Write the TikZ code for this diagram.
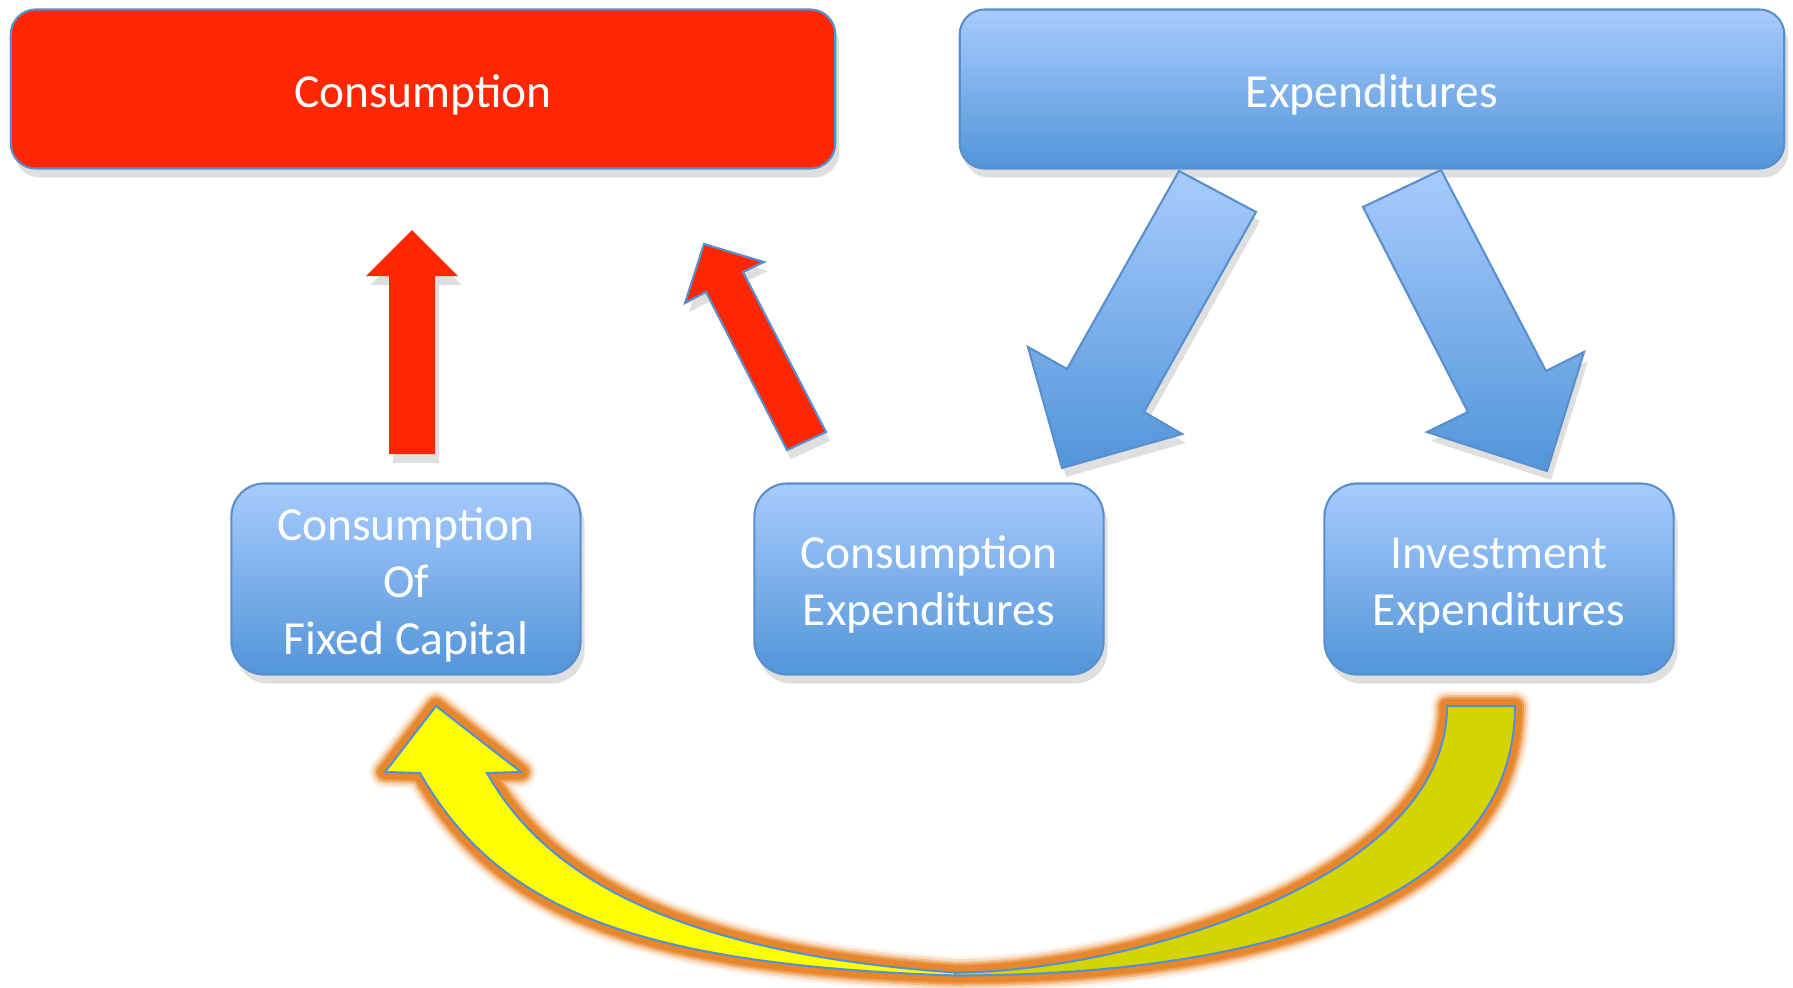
\documentclass[tikz,border=0pt]{standalone}
\usepackage{fontspec}
\setmainfont{Carlito}
\usetikzlibrary{shadows}
\definecolor{boxred}{HTML}{FF2600}
\definecolor{boxtop}{HTML}{A8CBFD}
\definecolor{boxbottom}{HTML}{5295D9}
\definecolor{edgeblue}{HTML}{5A8FCD}
\definecolor{glow}{HTML}{E8862C}
\definecolor{brightyellow}{HTML}{FFFF00}
\definecolor{darkyellow}{HTML}{D4D400}
\newcommand{\toppad}{\rule{0pt}{12.6pt}}

\begin{document}
\begin{tikzpicture}[x=0.01cm, y=-0.01cm,
    boxshadow/.style={drop shadow={opacity=0.25, shadow xshift=0.4mm, shadow yshift=-0.9mm}},
    bigbox/.style={rounded corners=0.25cm, draw=edgeblue, line width=0.6pt, minimum width=8.24cm, minimum height=1.59cm, text=white, font=\fontsize{13.5}{16}\selectfont, text height=10.7pt, text depth=0pt, boxshadow},
    smallbox/.style={rounded corners=0.33cm, draw=edgeblue, line width=0.6pt, minimum width=3.49cm, minimum height=1.91cm, text=white, align=center, font=\fontsize{13.5}{16.2}\selectfont, top color=boxtop, bottom color=boxbottom, boxshadow},
    blockarrow/.style={draw=edgeblue, line width=0.6pt, top color=boxtop, bottom color=boxbottom, boxshadow},
    redarrow/.style={fill=boxred, boxshadow},
    curveedge/.style={edgeblue, line width=0.6pt}
  ]
  \useasboundingbox (0,0) rectangle (1793,987);

  \node [bigbox, fill=boxred] (cons) at (423, 89) {Consumption};
  \node [bigbox, top color=boxtop, bottom color=boxbottom] (exp) at (1372, 89) {Expenditures};

  \node [smallbox] (cfc) at (406, 579) {\toppad Consumption\\Of\\Fixed Capital};
  \node [smallbox] (ce) at (929, 579) {\toppad Consumption\\Expenditures};
  \node [smallbox] (ie) at (1499, 579) {\toppad Investment\\Expenditures};

  \fill [redarrow] (389,454) -- (389,276) -- (366,276) -- (412,230) -- (458,276) -- (435,276) -- (435,454) -- cycle;
  \draw [redarrow, draw=edgeblue, line width=0.6pt] (787,450) -- (706,292) -- (685,303) -- (704,244) -- (764,262) -- (743,272) -- (826,432) -- cycle;

  \draw [blockarrow] (1179,171) -- (1256,212) -- (1144,412) -- (1182,434) -- (1062,468) -- (1028,347) -- (1067,369) -- cycle;
  \draw [blockarrow] (1363,207) -- (1441,170) -- (1546,371) -- (1584,352) -- (1547,471) -- (1427,432) -- (1468,412) -- cycle;

  \foreach \w/\o in {32/0.1, 27/0.2, 22/0.35, 18/0.6, 14/1}
    \draw [glow, line width=\w*0.2845pt, opacity=\o, line join=round]
      (436,706) -- (521,772) -- (487,773) .. controls (539.5,865.5) and (655,951.5) .. (955,972.5)
      .. controls (1115,972.5) and (1447,886) .. (1447,706) -- (1515,706)
      .. controls (1515,906) and (1250,975.5) .. (955,975.5)
      .. controls (625,964.6) and (495.6,904.6) .. (420,773) -- (385,772) -- cycle;
  \draw [curveedge, fill=darkyellow] (955,972.5)
      .. controls (1115,972.5) and (1447,886) .. (1447,706) -- (1515,706)
      .. controls (1515,906) and (1250,975.5) .. (955,975.5) -- cycle;
  \draw [curveedge, fill=brightyellow] (436,706) -- (521,772) -- (487,773)
      .. controls (539.5,865.5) and (655,951.5) .. (955,972.5) -- (955,975.5)
      .. controls (625,964.6) and (495.6,904.6) .. (420,773) -- (385,772) -- cycle;
\end{tikzpicture}
\end{document}
